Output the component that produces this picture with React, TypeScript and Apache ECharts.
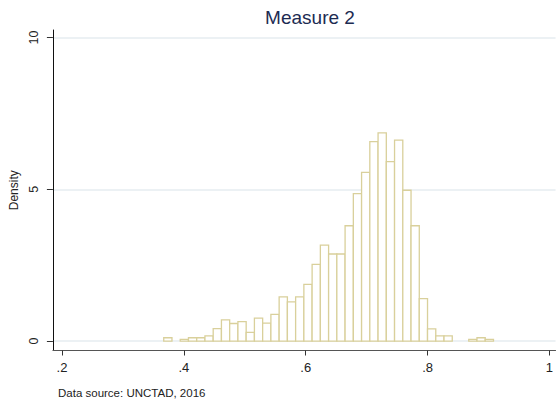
import React, { useEffect, useRef } from "react";
import * as echarts from "echarts";

// Histogram bins: first left edge and common width
const binStart = 0.367;
const binWidth = 0.01353;

// Density of each bin, left to right
const densities = [
  0.11, 0, 0.055, 0.11, 0.11, 0.17, 0.41, 0.7, 0.58, 0.64,
  0.29, 0.76, 0.59, 0.88, 1.46, 1.29, 1.46, 1.87, 2.53, 3.16,
  2.87, 2.87, 3.8, 4.86, 5.56, 6.57, 6.86, 5.91, 6.62, 4.97,
  3.8, 1.4, 0.4, 0.17, 0.17, 0, 0, 0.055, 0.11, 0.055,
];

const xTickValues = [0.2, 0.4, 0.6, 0.8, 1.0];
const xTickLabels = [".2", ".4", ".6", ".8", "1"];
const yTickValues = [0, 5, 10];
const yTickLabels = ["0", "5", "10"];

const FONT = "Liberation Sans, Arial, Helvetica, sans-serif";

export default function App() {
  const ref = useRef<HTMLDivElement>(null);

  useEffect(() => {
    if (!ref.current) return;
    const chart = echarts.init(ref.current, undefined, { renderer: "svg" });

    const bins = densities.map((d, i) => [
      binStart + i * binWidth,
      binStart + (i + 1) * binWidth,
      d,
    ]);

    chart.setOption({
      animation: false,
      backgroundColor: "#ffffff",
      title: [
        {
          text: "Measure 2",
          left: 305,
          top: 3,
          textAlign: "center",
          textStyle: {
            fontFamily: FONT,
            fontSize: 19,
            fontWeight: "normal",
            color: "#1c2b52",
          },
        },
        {
          text: "Data source: UNCTAD, 2016",
          left: 53,
          top: 382,
          textStyle: {
            fontFamily: FONT,
            fontSize: 11.5,
            fontWeight: "normal",
            color: "#222222",
          },
        },
      ],
      grid: { left: 51, right: 0, top: 30, bottom: 49.5, containLabel: false },
      xAxis: {
        type: "value",
        min: 0.1851,
        max: 1.0101,
        axisLine: { show: true, onZero: false, lineStyle: { color: "#555555", width: 1 } },
        axisTick: {
          show: true,
          customValues: xTickValues,
          length: 5,
          lineStyle: { color: "#333333" },
        },
        axisLabel: {
          customValues: xTickValues,
          margin: 10,
          fontFamily: FONT,
          fontSize: 13,
          color: "#222222",
          formatter: (v: number) => {
            const i = xTickValues.findIndex((t) => Math.abs(t - v) < 1e-6);
            return i >= 0 ? xTickLabels[i] : "";
          },
        },
        splitLine: { show: false },
      },
      yAxis: {
        type: "value",
        min: -0.31,
        max: 10.25,
        name: "Density",
        nameLocation: "middle",
        nameRotate: 90,
        nameGap: 28,
        nameTextStyle: { fontFamily: FONT, fontSize: 12, color: "#222222" },
        axisLine: { show: true, onZero: false, lineStyle: { color: "#111111", width: 1 } },
        axisTick: {
          show: true,
          customValues: yTickValues,
          length: 6,
          lineStyle: { color: "#333333" },
        },
        axisLabel: {
          customValues: yTickValues,
          rotate: 90,
          margin: 12,
          fontFamily: FONT,
          fontSize: 12.5,
          color: "#222222",
          formatter: (v: number) => {
            const i = yTickValues.findIndex((t) => Math.abs(t - v) < 1e-6);
            return i >= 0 ? yTickLabels[i] : "";
          },
        },
        splitLine: {
          show: true,
          lineStyle: { color: "#e6edf0", width: 1.5 },
        },
      },
      series: [
        {
          type: "custom",
          data: bins,
          encode: { x: [0, 1], y: 2 },
          renderItem: (params: any, api: any) => {
            const h = api.value(2);
            if (!h) return null;
            const p0 = api.coord([api.value(0), h]);
            const p1 = api.coord([api.value(1), 0]);
            return {
              type: "rect",
              shape: { x: p0[0], y: p0[1], width: p1[0] - p0[0], height: p1[1] - p0[1] },
              style: { fill: "#ffffff", stroke: "#d9d09b", lineWidth: 1.3 },
            };
          },
        },
      ],
    });

    return () => chart.dispose();
  }, []);

  return (
    <div
      ref={ref}
      style={{ position: "fixed", left: 0, top: 0, width: 556, height: 400 }}
    />
  );
}
